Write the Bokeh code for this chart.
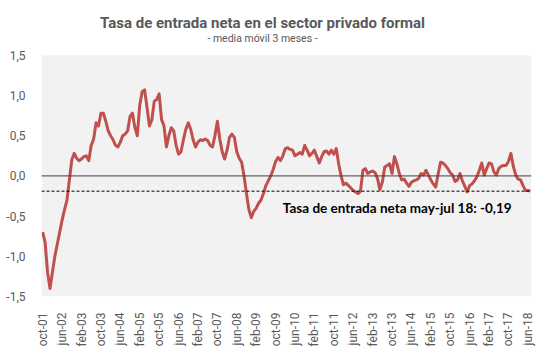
import math
from bokeh.plotting import figure
from bokeh.models import Span, Label, FixedTicker, BoxAnnotation
from bokeh.embed import file_html
from bokeh.resources import INLINE

TITLE = "Tasa de entrada neta en el sector privado formal"
SUBTITLE = "- media móvil 3 meses -"
NOTE = "Tasa de entrada neta may-jul 18: -0,19"
REF_LEVEL = -0.19

MONTHS = ["ene", "feb", "mar", "abr", "may", "jun", "jul", "ago", "sep", "oct", "nov", "dic"]
START_YEAR, START_MONTH = 2001, 10  # oct-01

# monthly values, oct-01 .. jul-18
values = [
    -0.70, -0.83, -1.20, -1.40, -1.20, -1.00, -0.85, -0.70, -0.55, -0.42,
    -0.30, -0.05, 0.20, 0.28, 0.22, 0.19, 0.21, 0.24, 0.25, 0.19,
    0.38, 0.46, 0.66, 0.62, 0.78, 0.78, 0.68, 0.56, 0.50, 0.45,
    0.38, 0.36, 0.42, 0.50, 0.52, 0.56, 0.74, 0.78, 0.60, 0.50,
    0.88, 1.05, 1.07, 0.85, 0.62, 0.70, 0.93, 0.95, 1.02, 0.70,
    0.62, 0.36, 0.50, 0.60, 0.56, 0.38, 0.27, 0.30, 0.45, 0.58,
    0.66, 0.58, 0.45, 0.36, 0.42, 0.45, 0.44, 0.46, 0.44, 0.38,
    0.36, 0.50, 0.68, 0.46, 0.30, 0.21, 0.32, 0.48, 0.52, 0.48,
    0.30, 0.22, 0.17, 0.00, -0.22, -0.42, -0.52, -0.44, -0.40, -0.34,
    -0.30, -0.22, -0.12, -0.06, 0.00, 0.08, 0.18, 0.23, 0.19, 0.25,
    0.34, 0.35, 0.33, 0.32, 0.25, 0.27, 0.29, 0.27, 0.38, 0.32,
    0.25, 0.28, 0.32, 0.24, 0.16, 0.24, 0.30, 0.31, 0.27, 0.32,
    0.27, 0.34, 0.15, 0.00, -0.11, -0.09, -0.12, -0.15, -0.18, -0.20,
    -0.22, -0.19, 0.07, 0.09, 0.03, 0.05, 0.06, 0.04, -0.03, -0.17,
    -0.08, 0.11, 0.13, 0.15, 0.03, 0.24, 0.15, 0.03, -0.05, -0.04,
    -0.09, -0.13, -0.08, -0.06, -0.05, -0.03, 0.03, 0.01, 0.07, 0.01,
    -0.05, -0.10, -0.14, 0.02, 0.17, 0.16, 0.13, 0.09, 0.04, 0.01,
    -0.07, -0.05, 0.03, -0.06, -0.13, -0.20, -0.12, -0.10, -0.06, -0.01,
    0.07, 0.16, 0.01, 0.09, 0.16, 0.15, 0.05, 0.01, 0.09, 0.12,
    0.13, 0.13, 0.18, 0.28, 0.12, 0.01, -0.04, -0.05, -0.12, -0.18,
    -0.18, -0.19,
]

y_ticks = [-1.5, -1.0, -0.5, 0.0, 0.5, 1.0, 1.5]
y_tick_labels = ["-1,5", "-1,0", "-0,5", "0,0", "0,5", "1,0", "1,5"]

def month_label(i):
    m = START_MONTH - 1 + i
    y = START_YEAR + m // 12
    return f"{MONTHS[m % 12]}-{y % 100:02d}"

n = len(values)
x = list(range(n))
x_ticks = list(range(0, n, 8))
x_tick_labels = {t: month_label(t) for t in x_ticks}

TICK_FONT = "Roboto"
GREY = "#595959"

# plot area: 242 px for the -1.5..1.5 band, plus 55 px of headroom above for titles
PX_PER_UNIT = 242 / 3.0
Y_TOP = y_ticks[-1] + 55 / PX_PER_UNIT

p = figure(width=546, height=349, output_backend="svg", toolbar_location=None,
           x_range=(-0.5, n - 0.5), y_range=(y_ticks[0], Y_TOP),
           min_border_left=41, min_border_right=15, min_border_top=0, min_border_bottom=52)
p.title = None
p.outline_line_color = None
p.background_fill_color = "white"
p.border_fill_color = "white"
p.grid.grid_line_color = None

p.add_layout(BoxAnnotation(bottom=y_ticks[0], top=y_ticks[-1], fill_color="#F2F2F2",
                           fill_alpha=1.0, line_color=None, level="underlay"))

p.yaxis.ticker = FixedTicker(ticks=y_ticks)
p.yaxis.major_label_overrides = {t: l for t, l in zip(y_ticks, y_tick_labels)}
p.xaxis.ticker = FixedTicker(ticks=x_ticks)
p.xaxis.major_label_overrides = x_tick_labels
p.xaxis.major_label_orientation = math.pi / 2
for ax in (p.xaxis, p.yaxis):
    ax.axis_line_color = None
    ax.major_tick_line_color = None
    ax.minor_tick_line_color = None
    ax.major_label_text_font = TICK_FONT
    ax.major_label_text_font_size = "12px"
    ax.major_label_text_color = GREY
p.yaxis.major_label_standoff = 10
p.xaxis.major_label_standoff = 10

p.add_layout(Span(location=0, dimension="width", line_color="#404040", line_width=1))
p.add_layout(Span(location=REF_LEVEL, dimension="width", line_color="black",
                  line_width=1, line_dash="3 2"))

p.line(x, values, line_color="#C0504D", line_width=3, line_join="round")

p.add_layout(Label(x=90.6, y=1.897, text=TITLE, text_align="center", text_baseline="alphabetic",
                   text_font=TICK_FONT, text_font_size="15px", text_font_style="bold",
                   text_color=GREY))
p.add_layout(Label(x=90.6, y=1.711, text=SUBTITLE, text_align="center", text_baseline="alphabetic",
                   text_font=TICK_FONT, text_font_size="10.5px", text_color=GREY))
p.add_layout(Label(x=99, y=-0.40, text=NOTE, text_align="left", text_baseline="middle",
                   text_font="Lato", text_font_size="13.5px", text_font_style="bold",
                   text_color="black"))

open("out.html", "w").write(file_html(p, INLINE))
